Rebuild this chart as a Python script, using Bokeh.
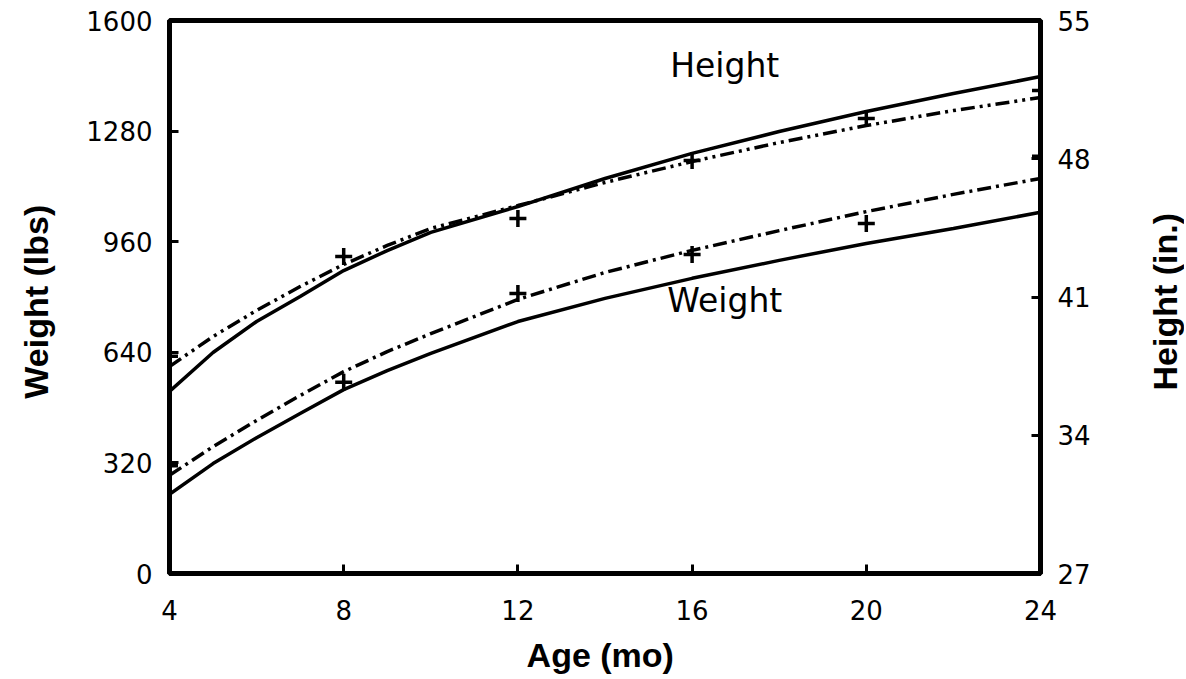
import math
from bokeh.plotting import figure
from bokeh.models import Range1d, LinearAxis, FixedTicker, Label
from bokeh.embed import file_html
from bokeh.resources import INLINE

# ---- data ----
months = [4, 5, 6, 7, 8, 9, 10, 12, 14, 16, 18, 20, 22, 24]
weight_fit_solid = [229, 318, 393, 463, 532, 587, 637, 729, 796, 854, 906, 955, 998, 1045]
weight_fit_dash = [284, 367, 443, 515, 584, 642, 694, 793, 871, 935, 992, 1047, 1097, 1143]
height_fit_solid = [36.22, 38.19, 39.76, 41.03, 42.34, 43.35, 44.27, 45.58, 47.00, 48.27, 49.38, 50.39, 51.30, 52.16]
height_fit_dash = [37.48, 39.00, 40.32, 41.53, 42.65, 43.61, 44.47, 45.63, 46.80, 47.86, 48.82, 49.68, 50.44, 51.10]

obs_months = [4, 8, 12, 16, 20, 24]
weight_obs = [312, 553, 810, 923, 1013, 1207]
height_obs = [38.00, 43.05, 44.97, 47.91, 50.04, 51.46]

x_ticks = [4, 8, 12, 16, 20, 24]
weight_ticks = [0, 320, 640, 960, 1280, 1600]
height_ticks = [27, 34, 41, 48, 55]

TICK_FONT = "DejaVu Sans"
TITLE_FONT = "Liberation Sans"

W, H = 1184, 678
p = figure(width=W, height=H,
           x_range=Range1d(4, 24), y_range=Range1d(0, 1600),
           output_backend="svg", toolbar_location=None,
           min_border_left=169, min_border_right=W - 1040,
           min_border_top=20, min_border_bottom=H - 573)
p.extra_y_ranges = {"h": Range1d(27, 55)}
p.xgrid.visible = False
p.ygrid.visible = False
p.outline_line_color = "black"
p.outline_line_width = 5
p.background_fill_color = "white"
p.border_fill_color = "white"

right_axis = LinearAxis(y_range_name="h")
p.add_layout(right_axis, "right")

xa = p.xaxis[0]
ya = p.yaxis[0]
xa.ticker = FixedTicker(ticks=x_ticks)
ya.ticker = FixedTicker(ticks=weight_ticks)
right_axis.ticker = FixedTicker(ticks=height_ticks)

for ax in (xa, ya, right_axis):
    ax.axis_line_width = 5
    ax.axis_line_color = "black"
    ax.major_tick_in = 9
    ax.major_tick_out = 0
    ax.major_tick_line_width = 3
    ax.major_tick_line_color = "black"
    ax.minor_tick_line_color = None
    ax.major_label_text_font = TICK_FONT
    ax.major_label_text_font_size = "26px"
    ax.major_label_text_color = "black"
    ax.axis_label_text_font = TITLE_FONT
    ax.axis_label_text_font_style = "bold"
    ax.axis_label_text_font_size = "34px"
    ax.axis_label_text_color = "black"

xa.major_label_standoff = 26
ya.major_label_standoff = 17
right_axis.major_label_standoff = 17

xa.axis_label = "Age  (mo)"
ya.axis_label = "Weight  (lbs)"
xa.axis_label_standoff = 13
ya.axis_label_standoff = 28

# right-hand title, reading bottom-to-top like the left one;
# placed in the right side panel so that it is not clipped to the frame
p.add_layout(Label(x=26.87, y=41, y_range_name="h", text="Height  (in.)",
                   angle=math.pi / 2, text_align="center",
                   text_baseline="middle", text_font=TITLE_FONT,
                   text_font_style="bold", text_font_size="34px",
                   text_color="black"), "right")

# fitted curves
p.line(months, weight_fit_solid, line_color="black", line_width=3.5)
p.line(months, weight_fit_dash, line_color="black", line_width=3.5,
       line_dash="14 5 3 5")
p.line(months, height_fit_solid, line_color="black", line_width=3.5,
       y_range_name="h")
p.line(months, height_fit_dash, line_color="black", line_width=3.5,
       line_dash="14 5 3 5 3 5", y_range_name="h")

# observed data
p.scatter(obs_months, weight_obs, marker="cross", size=17,
          line_color="black", line_width=3.5)
p.scatter(obs_months, height_obs, marker="cross", size=17,
          line_color="black", line_width=3.5, y_range_name="h")

# in-plot labels
p.add_layout(Label(x=16.75, y=1470, text="Height", text_align="center",
                   text_baseline="middle", text_font=TICK_FONT,
                   text_font_size="33px", text_color="black"))
p.add_layout(Label(x=16.75, y=790, text="Weight", text_align="center",
                   text_baseline="middle", text_font=TICK_FONT,
                   text_font_size="33px", text_color="black"))

open("out.html", "w").write(file_html(p, INLINE))
